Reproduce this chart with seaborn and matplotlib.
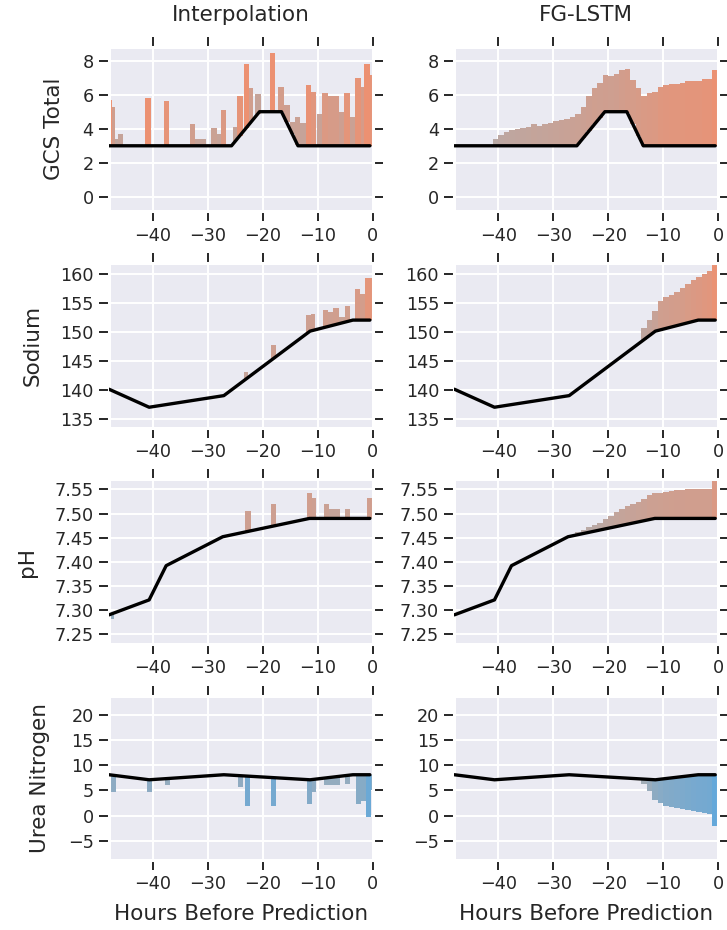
import numpy as np
import pandas as pd
import matplotlib
matplotlib.use("Agg")
import matplotlib.pyplot as plt
import seaborn as sns
from matplotlib.colors import to_rgb

# ---------------- data ----------------
features = ["GCS Total", "Sodium", "pH", "Urea Nitrogen"]
col_titles = ["Interpolation", "FG-LSTM"]
x_ticks = [-40, -30, -20, -10, 0]
y_ticks = {
    "GCS Total": [0, 2, 4, 6, 8],
    "Sodium": [135, 140, 145, 150, 155, 160],
    "pH": [7.25, 7.30, 7.35, 7.40, 7.45, 7.50, 7.55],
    "Urea Nitrogen": [-5, 0, 5, 10, 15, 20],
}
y_limits = {
    "GCS Total": (-0.85, 8.8),
    "Sodium": (133.6, 161.9),
    "pH": (7.23, 7.571),
    "Urea Nitrogen": (-8.8, 23.8),
}

# interpolated measurement line (vertices)
gcs_line_t = [-48, -25.7, -20.6, -16.6, -13.6, -0.5]
gcs_line_v = [3, 3, 5, 5, 3, 3]
sodium_line_t = [-48, -40.7, -27.1, -11.4, -3.6, -0.5]
sodium_line_v = [140.2, 137.1, 139.1, 150.2, 152.1, 152.1]
ph_line_t = [-48, -40.7, -37.6, -27.3, -11.5, -0.5]
ph_line_v = [7.29, 7.321, 7.392, 7.452, 7.49, 7.49]
urea_line_t = [-48, -40.7, -27.1, -11.4, -3.6, -0.5]
urea_line_v = [8.1, 7.1, 8.1, 7.1, 8.1, 8.1]

# Interpolation column: bar spans, bar ends and colour tone (+ orange, - blue)
gcs_int_left = [-48.0, -47.4, -46.97, -46.4, -41.4, -38.0, -33.3, -32.4, -29.4, -28.4,
                -27.7, -25.4, -24.7, -23.5, -22.5, -21.4, -18.7, -17.2, -16.2, -15.1,
                -14.1, -13.2, -12.2, -11.2, -10.2, -9.2, -8.2, -6.2, -5.2, -4.2,
                -3.2, -2.2, -1.5, -0.5]
gcs_int_right = [-47.4, -46.97, -46.4, -45.45, -40.4, -37.0, -32.4, -30.4, -28.4, -27.7,
                 -26.7, -24.7, -23.7, -22.5, -21.8, -20.4, -17.7, -16.2, -15.1, -14.1,
                 -13.2, -12.2, -11.2, -10.4, -9.2, -8.2, -6.2, -5.2, -4.2, -3.2,
                 -2.2, -1.5, -0.5, 0.0]
gcs_int_end = [5.69, 5.3, 3.38, 3.71, 5.83, 5.6, 4.25, 3.38, 4.02, 3.71,
               5.1, 4.1, 5.92, 7.8, 6.37, 6.04, 8.44, 6.46, 5.4, 4.4,
               4.67, 4.33, 6.56, 6.13, 4.87, 6.12, 5.92, 4.98, 6.12, 4.67,
               6.98, 6.46, 7.8, 7.17]
gcs_int_tone = [1, .5, .2, .3, 1, .9, .5, .3, .4, .3,
                .7, .3, .9, 1, .5, .3, 1, .55, .45, .35,
                .4, .3, .95, .8, .35, .7, .6, .45, .85, .4,
                .9, .6, 1, .9]

sodium_int_left = [-23.5, -18.55, -12.05, -11.27, -9.04, -8.13, -7.23, -6.14, -5.1, -3.13, -2.23, -1.39]
sodium_int_right = [-22.7, -17.65, -11.27, -10.42, -8.13, -7.23, -6.14, -5.1, -4.1, -2.23, -1.39, 0.0]
sodium_int_end = [143.2, 147.8, 152.9, 153.2, 153.9, 153.5, 154.2, 152.6, 154.5, 157.5, 156.6, 159.4]
sodium_int_tone = [.3, .45, .45, .45, .5, .45, .5, .35, .5, .65, .55, .85]

ph_int_left = [-48.0, -23.2, -18.5, -12.0, -11.0, -8.9, -8.0, -5.0, -1.0]
ph_int_right = [-47.1, -22.2, -17.6, -11.0, -10.4, -8.0, -5.9, -4.1, -0.1]
ph_int_end = [7.282, 7.505, 7.52, 7.543, 7.533, 7.52, 7.509, 7.509, 7.533]
ph_int_tone = [-.3, .45, .45, .5, .45, .4, .3, .35, .5]

urea_int_left = [-48.0, -41.0, -37.8, -24.5, -23.2, -18.5, -12.0, -11.1, -8.9, -5.0, -3.0, -2.1, -1.2, -0.3]
urea_int_right = [-46.8, -40.1, -36.9, -23.6, -22.3, -17.6, -11.1, -10.3, -5.9, -4.1, -2.1, -1.2, -0.3, 0.0]
urea_int_end = [4.6, 4.6, 6.0, 5.65, 2.0, 2.0, 2.35, 4.6, 6.0, 6.3, 2.35, 2.8, -0.2, 5.1]
urea_int_tone = [-.4, -.4, -.3, -.35, -.75, -.75, -.55, -.4, -.3, -.3, -.5, -.5, -.9, -.6]

# FG-LSTM column: hourly bars (start hour) and bar ends
gcs_fg_start = list(range(-41, 0))
gcs_fg_end = [3.4, 3.65, 3.8, 3.92, 4.0, 4.06, 4.12, 4.25, 4.18, 4.27,
              4.35, 4.44, 4.5, 4.6, 4.7, 4.85, 5.3, 5.9, 6.4, 6.7,
              7.17, 7.1, 7.2, 7.42, 7.5, 6.88, 6.4, 5.94, 6.08, 6.17,
              6.46, 6.56, 6.6, 6.6, 6.71, 6.79, 6.81, 6.81, 6.9, 6.9, 7.42]
sodium_fg_start = list(range(-14, 0))
sodium_fg_end = [150.8, 152.2, 153.7, 155.4, 156.0, 156.5, 157.0, 157.6, 158.3, 159.0,
                 159.6, 160.1, 160.5, 162.3]
ph_fg_start = list(range(-26, 0))
ph_fg_end = [7.462, 7.467, 7.472, 7.477, 7.481, 7.488, 7.495, 7.503, 7.510, 7.516,
             7.520, 7.525, 7.531, 7.538, 7.542, 7.543, 7.545, 7.547, 7.548, 7.548,
             7.550, 7.550, 7.550, 7.550, 7.551, 7.572]
urea_fg_start = list(range(-14, 0))
urea_fg_end = [6.3, 4.9, 3.1, 2.4, 1.9, 1.7, 1.5, 1.3, 1.05, 0.85, 0.65, 0.5, 0.3, -2.0]

lines = {
    "GCS Total": (gcs_line_t, gcs_line_v),
    "Sodium": (sodium_line_t, sodium_line_v),
    "pH": (ph_line_t, ph_line_v),
    "Urea Nitrogen": (urea_line_t, urea_line_v),
}
interp_bars = {
    "GCS Total": (gcs_int_left, gcs_int_right, gcs_int_end, gcs_int_tone),
    "Sodium": (sodium_int_left, sodium_int_right, sodium_int_end, sodium_int_tone),
    "pH": (ph_int_left, ph_int_right, ph_int_end, ph_int_tone),
    "Urea Nitrogen": (urea_int_left, urea_int_right, urea_int_end, urea_int_tone),
}
fg_bars = {
    "GCS Total": (gcs_fg_start, gcs_fg_end),
    "Sodium": (sodium_fg_start, sodium_fg_end),
    "pH": (ph_fg_start, ph_fg_end),
    "Urea Nitrogen": (urea_fg_start, urea_fg_end),
}
# colour-scale maximum of the FG-LSTM bars (distance from line)
fg_tone_vmax = {"GCS Total": 4.5, "Sodium": 10.5, "pH": 0.12, "Urea Nitrogen": 10.1}

# ---------------- style ----------------
sns.set_theme(style="darkgrid", rc={
    "axes.facecolor": "#EAEAF2",
    "axes.edgecolor": "white",
    "axes.linewidth": 2.2,
    "grid.color": "white",
    "grid.linewidth": 1.4,
    "xtick.top": True, "xtick.bottom": True,
    "ytick.left": True, "ytick.right": True,
    "xtick.direction": "out", "ytick.direction": "out",
    "xtick.major.size": 7.5, "ytick.major.size": 7.5,
    "xtick.major.width": 1.4, "ytick.major.width": 1.4,
    "xtick.color": ".15", "ytick.color": ".15",
    "xtick.labelsize": 12.7, "ytick.labelsize": 12.7,
    "axes.labelsize": 15.5, "axes.titlesize": 15.5,
    "text.color": ".15", "axes.labelcolor": ".15",
})
plt.rcParams["font.family"] = ["DejaVu Sans"]

grey_pos = np.array(to_rgb("#b4abaa"))
orange = np.array(to_rgb("#ec9172"))
grey_neg = np.array(to_rgb("#a8adb3"))
blue = np.array(to_rgb("#64a8da"))


def tone_color(t):
    t = float(np.clip(t, -1, 1))
    if t >= 0:
        return tuple(grey_pos + (orange - grey_pos) * t)
    return tuple(grey_neg + (blue - grey_neg) * (-t))


fig, axes = plt.subplots(4, 2, figsize=(7.27, 9.3), dpi=100)
fig.subplots_adjust(left=0.150, right=0.9876, top=0.9495, bottom=0.0753,
                    wspace=0.31, hspace=0.315)

for r, feat in enumerate(features):
    lt, lv = lines[feat]
    for c in range(2):
        ax = axes[r, c]
        if c == 0:
            left, right, end, tone = interp_bars[feat]
            left = np.array(left); right = np.array(right); end = np.array(end)
            base = np.interp((left + right) / 2, lt, lv)
            colors = [tone_color(t) for t in tone]
            ax.bar(left, end - base, width=right - left, bottom=base, align="edge",
                   color=colors, linewidth=0, zorder=2)
        else:
            start, end = fg_bars[feat]
            start = np.array(start, dtype=float); end = np.array(end)
            base = np.interp(start + 0.5, lt, lv)
            h = end - base
            colors = [tone_color(v / fg_tone_vmax[feat]) for v in h]
            ax.bar(start, h, width=1.0, bottom=base, align="edge",
                   color=colors, linewidth=0, zorder=2)
        df = pd.DataFrame({"t": lt, "v": lv})
        sns.lineplot(data=df, x="t", y="v", ax=ax, color="black", linewidth=2.4,
                     sort=False, estimator=None, zorder=3)
        ax.set_xlim(-48, 0)
        ax.set_ylim(*y_limits[feat])
        ax.set_xticks(x_ticks)
        ax.set_yticks(y_ticks[feat])
        if feat == "pH":
            ax.set_yticklabels([f"{v:.2f}" for v in y_ticks[feat]])
        ax.set_ylabel(feat if c == 0 else "", labelpad=13)
        ax.set_xlabel("Hours Before Prediction" if r == 3 else "", labelpad=8)
        if r == 0:
            ax.set_title(col_titles[c], pad=19)

fig.savefig("out.png", dpi=100)
